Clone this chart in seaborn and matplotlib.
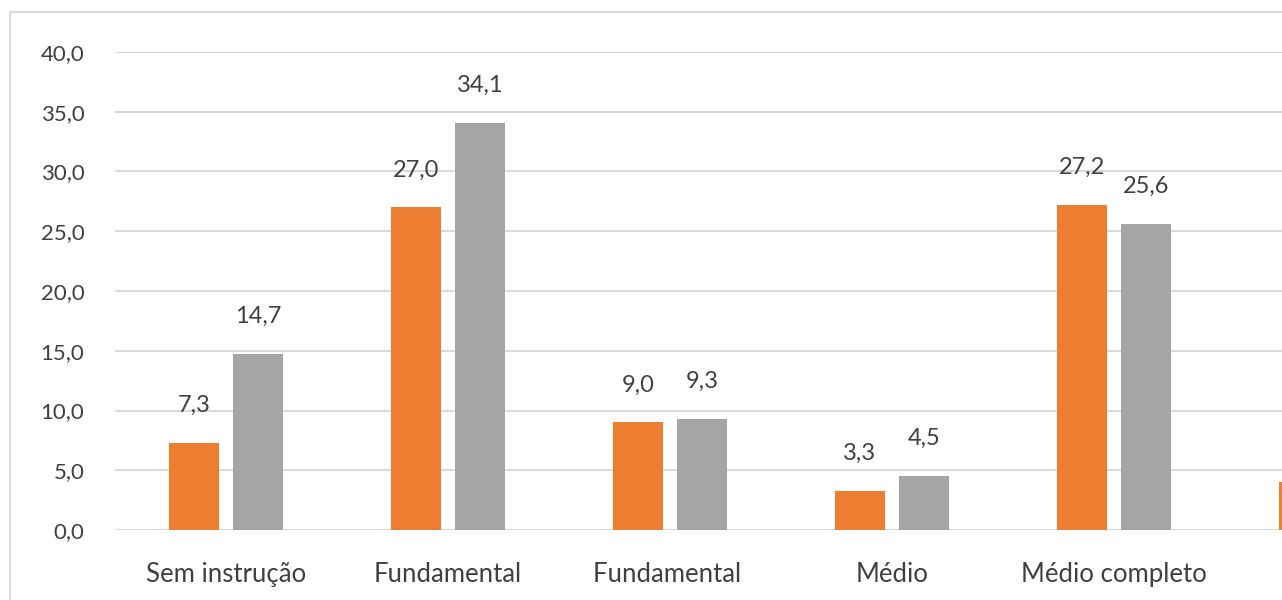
import matplotlib
matplotlib.use('Agg')
import pandas as pd
import seaborn as sns
from matplotlib import pyplot as plt
from matplotlib.patches import Rectangle

categories = ['Sem instrução', 'Fundamental', 'Fundamental ', 'Médio', 'Médio completo', 'Superior']
series_a = [7.3, 27.0, 9.0, 3.3, 27.2, 4.0]
series_b = [14.7, 34.1, 9.3, 4.5, 25.6, 3.0]
series_names = ['A', 'B']
y_ticks = [0, 5, 10, 15, 20, 25, 30, 35, 40]

ORANGE = '#ED7D31'
GRAY = '#A5A5A5'
TEXT = '#404040'
GRID = '#D9D9D9'


def main():
    df = pd.DataFrame({
        'categoria': categories * 2,
        'valor': series_a + series_b,
        'serie': [series_names[0]] * len(categories) + [series_names[1]] * len(categories),
    })

    sns.set_style('white')
    plt.rcParams['font.family'] = ['Lato', 'DejaVu Sans']

    fig = plt.figure(figsize=(12.82, 6), dpi=100)
    # the chart is cut off on the right, so the axes run past the figure edge
    ax = fig.add_axes([115 / 1282, 70 / 600, 6 * 222 / 1282, 478 / 600])

    sns.barplot(data=df, x='categoria', y='valor', hue='serie', order=categories,
                palette=[ORANGE, GRAY], width=0.577, gap=0.234, saturation=1,
                linewidth=0, legend=False, ax=ax)

    ax.set_xlim(-0.5, len(categories) - 0.5)
    ax.set_ylim(0, 40)
    ax.set_yticks(y_ticks)
    ax.set_yticklabels([f'{t:.1f}'.replace('.', ',') for t in y_ticks])
    ax.tick_params(axis='y', length=0, pad=22, labelsize=16, labelcolor=TEXT)
    ax.tick_params(axis='x', length=0, pad=23, labelsize=18.5, labelcolor=TEXT)
    ax.set_xlabel('')
    ax.set_ylabel('')
    ax.grid(True, axis='y', color=GRID, linewidth=1.5)
    ax.set_axisbelow(True)
    for side in ['top', 'right', 'left', 'bottom']:
        ax.spines[side].set_visible(False)
    ax.axhline(0, color=GRID, linewidth=1.5, zorder=0)

    for container in ax.containers:
        labels = [f'{b.get_height():.1f}'.replace('.', ',') for b in container]
        for bar, lab in zip(container, labels):
            ax.annotate(lab, (bar.get_x() + bar.get_width() / 2, bar.get_height()),
                        xytext=(0, 27), textcoords='offset points',
                        ha='center', va='center', fontsize=17, color=TEXT)

    fig.patches.append(Rectangle((10 / 1282, -0.1), 1.2, 0.1 + 588 / 600,
                                 transform=fig.transFigure, fill=False,
                                 edgecolor=GRID, linewidth=1.5, zorder=0))

    fig.savefig('out.png', dpi=100, facecolor='white')


if __name__ == '__main__':
    main()
